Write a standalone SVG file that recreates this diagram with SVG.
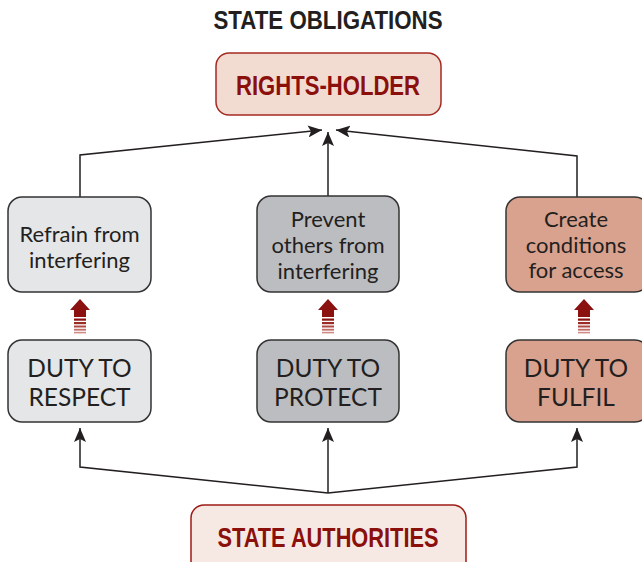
<svg xmlns="http://www.w3.org/2000/svg" xmlns:xlink="http://www.w3.org/1999/xlink" width="642" height="562" viewBox="0 0 642 562">
<style>
.title{font-family:"Liberation Sans",Arial,sans-serif;font-weight:bold;font-size:25px;fill:#231f20;text-anchor:middle}
.red{font-family:"Liberation Sans",Arial,sans-serif;font-weight:bold;font-size:28px;fill:#8b0f0b;text-anchor:middle}
.lbl{font-family:Lato,"Liberation Sans",Arial,sans-serif;font-weight:400;font-size:22px;fill:#231f20;text-anchor:middle}
.duty{font-family:Lato,"Liberation Sans",Arial,sans-serif;font-weight:400;font-size:24.5px;fill:#231f20;text-anchor:middle}
.box{stroke:#333;stroke-width:1.5}
.conn{fill:none;stroke:#231f20;stroke-width:1.5}
</style>
<defs>
<marker id="ah" viewBox="0 0 14 12" refX="14" refY="6" markerWidth="14" markerHeight="12" orient="auto" markerUnits="userSpaceOnUse">
<path d="M0,0 L14,6 L0,12 L3,6 z" fill="#231f20"/>
</marker>
<g id="heavy">
<polygon points="0,0 -10,11 -6,11 -6,18 6,18 6,11 10,11" fill="#8b1111"/>
<rect x="-6" y="19.5" width="12" height="2.2" fill="#8b1111"/>
<rect x="-6" y="23" width="12" height="2.2" fill="#9b2a24"/>
<rect x="-6" y="26.5" width="12" height="2" fill="#ad4a43"/>
<rect x="-6" y="29.8" width="12" height="1.8" fill="#bf6b64"/>
<rect x="-6" y="32.8" width="12" height="1.6" fill="#d08c86"/>
</g>
</defs>

<text class="title" x="328" y="29" textLength="229" lengthAdjust="spacingAndGlyphs">STATE OBLIGATIONS</text>

<g id="connectors">
<polyline class="conn" points="80,197 80,155 322,130" marker-end="url(#ah)"/>
<polyline class="conn" points="328,196 328,132" marker-end="url(#ah)"/>
<polyline class="conn" points="577,197 577,156 336,130" marker-end="url(#ah)"/>
<polyline class="conn" points="328,493 80,467 80,428" marker-end="url(#ah)"/>
<polyline class="conn" points="328,493 328,428" marker-end="url(#ah)"/>
<polyline class="conn" points="328,493 577,467 577,428" marker-end="url(#ah)"/>
<use xlink:href="#heavy" href="#heavy" x="80" y="299"/>
<use xlink:href="#heavy" href="#heavy" x="328" y="299"/>
<use xlink:href="#heavy" href="#heavy" x="584" y="299"/>
</g>

<g id="rights-holder">
<rect x="216" y="53" width="225" height="62" rx="13" fill="#f2dcd2" stroke="#a52a22" stroke-width="1.5"/>
<text class="red" x="328" y="95" textLength="184" lengthAdjust="spacingAndGlyphs">RIGHTS-HOLDER</text>
</g>

<g id="refrain">
<rect class="box" x="8" y="197" width="143" height="95" rx="14" fill="#e5e6e8"/>
<text class="lbl" x="79.5" y="242">Refrain from</text>
<text class="lbl" x="79.5" y="268">interfering</text>
</g>

<g id="prevent">
<rect class="box" x="257" y="196" width="142" height="96" rx="14" fill="#bcbdc0"/>
<text class="lbl" x="328" y="227">Prevent</text>
<text class="lbl" x="328" y="253">others from</text>
<text class="lbl" x="328" y="279">interfering</text>
</g>

<g id="create">
<rect class="box" x="506" y="197" width="143" height="95" rx="14" fill="#d9a28e"/>
<text class="lbl" x="576" y="227">Create</text>
<text class="lbl" x="576" y="253">conditions</text>
<text class="lbl" x="576" y="278">for access</text>
</g>

<g id="respect">
<rect class="box" x="8" y="340" width="143" height="82" rx="14" fill="#e5e6e8"/>
<text class="duty" x="79.5" y="377">DUTY TO</text>
<text class="duty" x="79.5" y="406">RESPECT</text>
</g>

<g id="protect">
<rect class="box" x="257" y="340" width="142" height="82" rx="14" fill="#bcbdc0"/>
<text class="duty" x="328" y="377">DUTY TO</text>
<text class="duty" x="328" y="406">PROTECT</text>
</g>

<g id="fulfil">
<rect class="box" x="506" y="340" width="143" height="82" rx="14" fill="#d9a28e"/>
<text class="duty" x="576" y="377">DUTY TO</text>
<text class="duty" x="576" y="406">FULFIL</text>
</g>

<g id="state-authorities">
<rect x="191" y="505" width="275" height="80" rx="13" fill="#f6e9e4" stroke="#9e1b16" stroke-width="1.5"/>
<text class="red" x="328" y="547" textLength="221" lengthAdjust="spacingAndGlyphs">STATE AUTHORITIES</text>
</g>
</svg>
